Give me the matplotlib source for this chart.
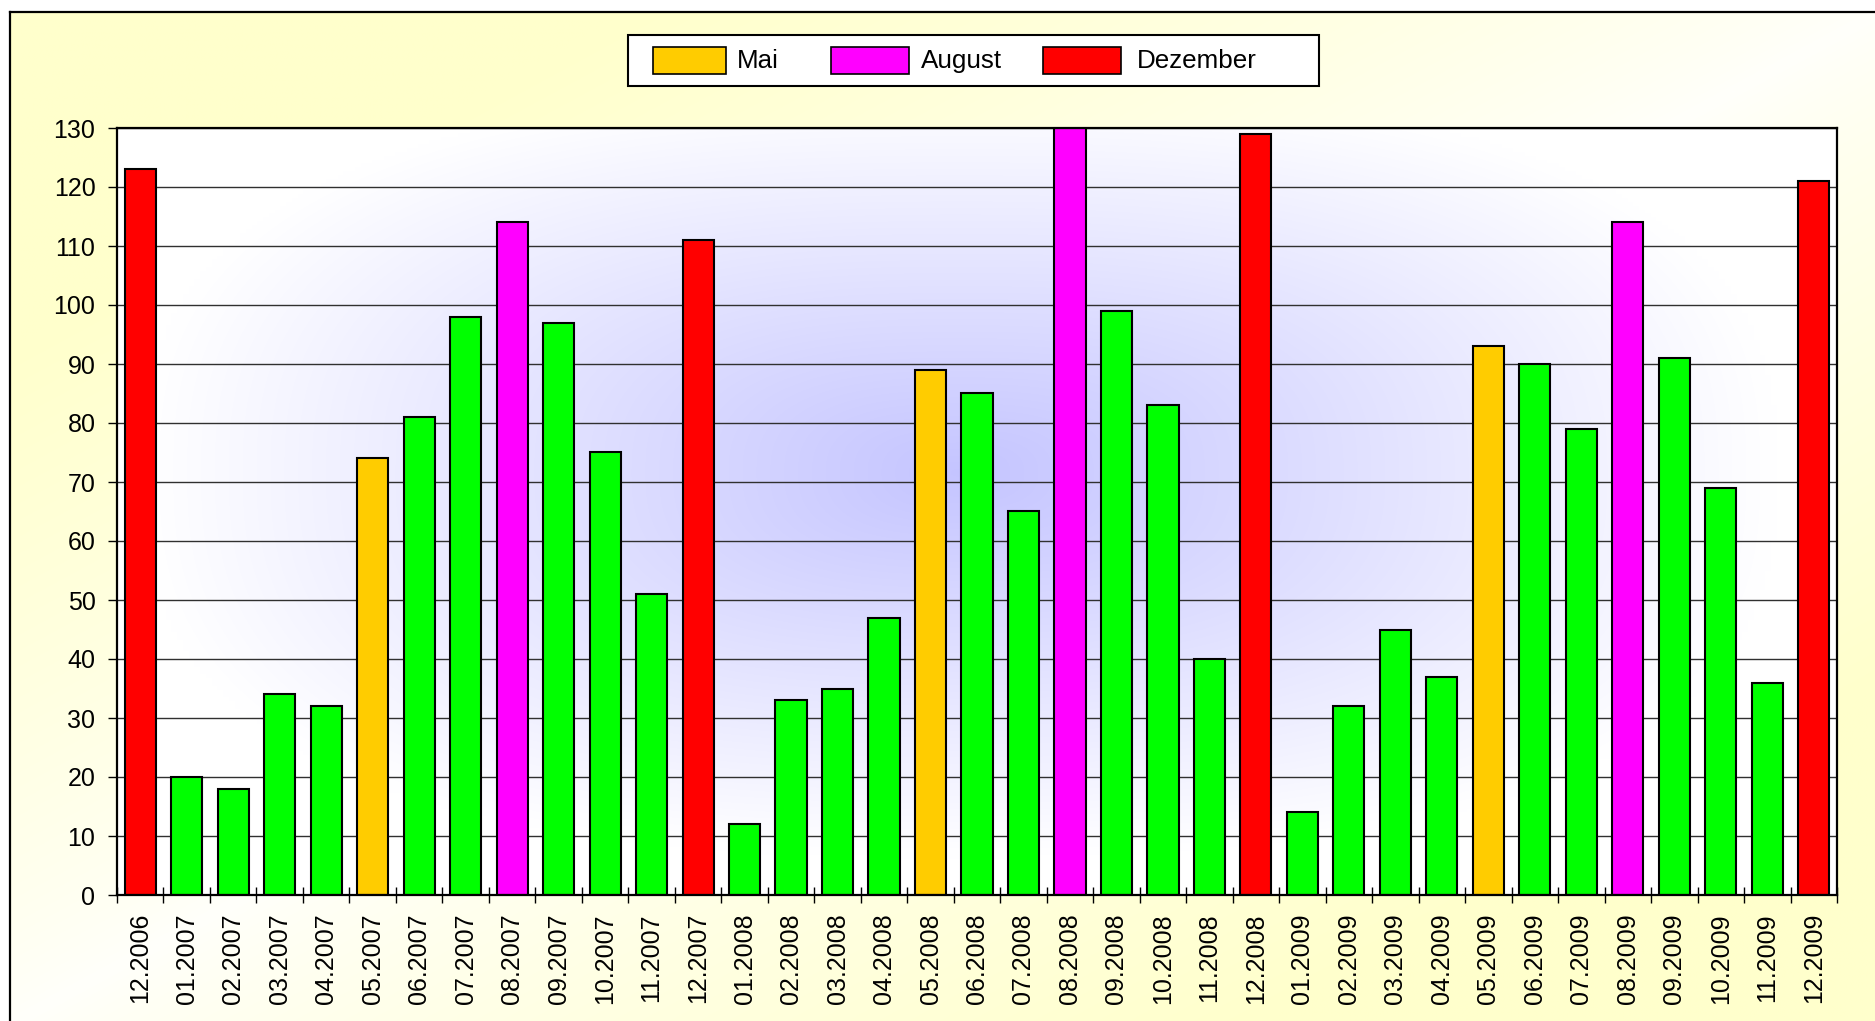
import numpy as np
import matplotlib
matplotlib.use("Agg")
import matplotlib.pyplot as plt
from matplotlib.patches import Rectangle
from matplotlib import font_manager

plt.rcParams['font.family'] = ['Liberation Sans', 'DejaVu Sans']
_names = {f.name for f in font_manager.fontManager.ttflist}
HAS_NARROW = 'Liberation Sans Narrow' in _names
if HAS_NARROW:
    narrow_family = ['Liberation Sans Narrow', 'Liberation Sans', 'DejaVu Sans']
    xlabel_size, legend_size = 20.5, 22.5
else:
    narrow_family = ['Liberation Sans', 'DejaVu Sans']
    xlabel_size, legend_size = 18, 18.7

months = ["12.2006",
          "01.2007", "02.2007", "03.2007", "04.2007", "05.2007", "06.2007",
          "07.2007", "08.2007", "09.2007", "10.2007", "11.2007", "12.2007",
          "01.2008", "02.2008", "03.2008", "04.2008", "05.2008", "06.2008",
          "07.2008", "08.2008", "09.2008", "10.2008", "11.2008", "12.2008",
          "01.2009", "02.2009", "03.2009", "04.2009", "05.2009", "06.2009",
          "07.2009", "08.2009", "09.2009", "10.2009", "11.2009", "12.2009"]
values = [123,
          20, 18, 34, 32, 74, 81, 98, 114, 97, 75, 51, 111,
          12, 33, 35, 47, 89, 85, 65, 130, 99, 83, 40, 129,
          14, 32, 45, 37, 93, 90, 79, 114, 91, 69, 36, 121]
legend_labels = ["Mai", "August", "Dezember"]
highlight_month = {"05": "Mai", "08": "August", "12": "Dezember"}
colors = {"Mai": "#FFCC00", "August": "#FF00FF", "Dezember": "#FF0000", "other": "#00FF00"}
yticks = list(range(0, 131, 10))

W, H = 1875, 1021
fig = plt.figure(figsize=(W / 100, H / 100), dpi=100)
fig.patch.set_facecolor("white")

# background panel (pixel coordinates, y downwards)
bg = fig.add_axes([0, 0, 1, 1], zorder=-10)
bg.set_xlim(0, W)
bg.set_ylim(H, 0)
bg.axis("off")
gx, gy = np.meshgrid(np.linspace(0, 1, 300), np.linspace(0, 1, 170))
t = (gx + gy) / 2.0
w = np.abs(t - 0.5) * 2
w = np.clip(w * 1.5, 0, 1) ** 0.8
yellow = np.array([1.0, 1.0, 0.80])
white = np.array([1.0, 1.0, 0.985])
img = white[None, None, :] * (1 - w[..., None]) + yellow[None, None, :] * w[..., None]
bg.imshow(img, extent=[10, W + 5, H + 5, 12], aspect="auto", interpolation="bilinear", zorder=0)
bg.plot([10, 10], [12, H + 5], color="black", lw=1.6, zorder=2)
bg.plot([10, W + 5], [12, 12], color="black", lw=1.6, zorder=2)

# legend (drawn on the background panel)
bg.add_patch(Rectangle((628, 35), 691, 51, facecolor="white", edgecolor="black",
                       linewidth=1.5, zorder=3))
leg_patch_x = [653, 831, 1043]
leg_patch_w = [73, 78, 78]
leg_text_x = [737, 921, 1137]
for lbl, px0, pw, tx in zip(legend_labels, leg_patch_x, leg_patch_w, leg_text_x):
    bg.add_patch(Rectangle((px0, 47), pw, 27, facecolor=colors[lbl], edgecolor="black",
                           linewidth=1.2, zorder=4))
    bg.text(tx, 61, lbl, fontsize=legend_size, family=narrow_family,
            va="center", ha="left", zorder=4)

left, right, top, bottom = 117, 1837, 128, 895
ax = fig.add_axes([left / W, 1 - bottom / H, (right - left) / W, (bottom - top) / H])
ax.set_facecolor("none")

# plot area gradient (soft rectangular glow)
px, py = np.meshgrid(np.linspace(-1, 1, 300), np.linspace(-1, 1, 200))
cx, cy = -0.02, -0.1
r = ((np.abs(px - cx) / 0.95) ** 2.6 + (np.abs(py - cy) / 1.0) ** 2.6) ** (1 / 2.6)
a = np.clip(1 - r, 0, 1) ** 1.0
center = np.array([0.77, 0.77, 1.0])
edge = np.array([1.0, 1.0, 1.0])
pimg = edge[None, None, :] * (1 - a[..., None]) + center[None, None, :] * a[..., None]
ax.imshow(pimg, extent=[-0.5, len(months) - 0.5, 0, 130], aspect="auto",
          interpolation="bilinear", zorder=0)

x = np.arange(len(months))
bar_colors = [colors[highlight_month[m[:2]]] if m[:2] in highlight_month else colors["other"]
              for m in months]
ax.bar(x, values, width=0.67, color=bar_colors, edgecolor="black", linewidth=1.5, zorder=3)

ax.set_xlim(-0.5, len(months) - 0.5)
ax.set_ylim(0, 130)
ax.set_yticks(yticks)
ax.set_yticklabels([str(v) for v in yticks], fontsize=18)
ax.yaxis.grid(True, color="#303030", linewidth=1.0, zorder=1)
ax.set_axisbelow(True)

ax.set_xticks(x)
ax.set_xticklabels(months, rotation=90, fontsize=xlabel_size, family=narrow_family)
ax.tick_params(axis="x", which="major", length=0, pad=13)
ax.set_xticks(np.arange(len(months) + 1) - 0.5, minor=True)
ax.tick_params(axis="x", which="minor", direction="inout", length=11, width=1.0)
ax.tick_params(axis="y", direction="out", length=6.5, width=1.0, pad=9)

for s in ax.spines.values():
    s.set_linewidth(1.6)
    s.set_color("black")
    s.set_zorder(5)

fig.savefig("out.png", dpi=100)
